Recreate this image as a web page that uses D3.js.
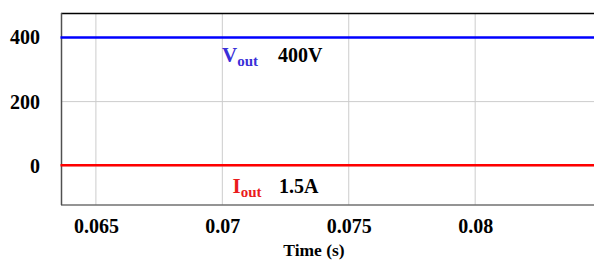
<!DOCTYPE html>
<html>
<head>
<meta charset="utf-8">
<script src="https://cdn.jsdelivr.net/npm/d3@7"></script>
<style>
  body { margin: 0; background: #fff; }
  text { font-family: "Liberation Serif", "Times New Roman", serif; font-weight: bold; }
</style>
</head>
<body>
<div id="chart-area"></div>
<script>
// Data
var time = [0.0636, 0.0847];
var vout = [400, 400];
var iout = [1.5, 1.5];
var xTicks = [0.065, 0.07, 0.075, 0.08];
var xTickLabels = ["0.065", "0.07", "0.075", "0.08"];
var yTicks = [0, 200, 400];
var yTickLabels = ["0", "200", "400"];

var margin = { left: 61, right: 0, top: 13, bottom: 55 },
    width = 594 - margin.left - margin.right,
    height = 260 - margin.top - margin.bottom;

var svg = d3.select("#chart-area")
    .append("svg")
    .attr("width", 594)
    .attr("height", 260);
var g = svg.append("g")
    .attr("transform", "translate(" + margin.left + "," + margin.top + ")");

// Scales
var x = d3.scaleLinear().domain([0.06362, 0.08470]).range([0, width]);
var y = d3.scaleLinear().domain([-122, 476]).range([height, 0]);

// Grid
g.selectAll(".vgrid").data(xTicks).enter().append("line")
    .attr("x1", d => x(d)).attr("x2", d => x(d))
    .attr("y1", 0).attr("y2", height)
    .attr("stroke", "#cccccc").attr("stroke-width", 1);
g.selectAll(".hgrid").data(yTicks).enter().append("line")
    .attr("x1", 0).attr("x2", width)
    .attr("y1", d => y(d)).attr("y2", d => y(d))
    .attr("stroke", "#cccccc").attr("stroke-width", 1);

// Frame
g.append("line").attr("x1", 0).attr("x2", width).attr("y1", 0.5).attr("y2", 0.5)
    .attr("stroke", "#000").attr("stroke-width", 1.5);
g.append("line").attr("x1", 0).attr("x2", width).attr("y1", height).attr("y2", height)
    .attr("stroke", "#707070").attr("stroke-width", 1.5);
g.append("line").attr("x1", 0.5).attr("x2", 0.5).attr("y1", 0).attr("y2", height)
    .attr("stroke", "#505050").attr("stroke-width", 1.5);

// Axes (labels only)
var xAxis = g.append("g")
    .attr("transform", "translate(0," + height + ")")
    .call(d3.axisBottom(x).tickValues(xTicks).tickSize(0).tickPadding(14)
        .tickFormat((d, i) => xTickLabels[i]));
var yAxis = g.append("g")
    .call(d3.axisLeft(y).tickValues(yTicks).tickSize(0).tickPadding(21)
        .tickFormat((d, i) => yTickLabels[i]));
[xAxis, yAxis].forEach(function(a) {
    a.select(".domain").remove();
    a.selectAll("text")
        .attr("font-family", "Liberation Serif, Times New Roman, serif")
        .attr("font-weight", "bold")
        .attr("font-size", "20px")
        .attr("fill", "#000");
});

g.append("text")
    .attr("x", 314 - margin.left)
    .attr("y", 256 - margin.top)
    .attr("text-anchor", "middle")
    .attr("font-size", "17.5px")
    .text("Time (s)");

// Lines
var line = d3.line()
    .x(function(d){ return x(d[0]); })
    .y(function(d){ return y(d[1]); });

g.append("path")
    .attr("fill", "none")
    .attr("stroke", "#0000ff")
    .attr("stroke-width", 2.5)
    .attr("d", line(d3.zip(time, vout)));
g.append("path")
    .attr("fill", "none")
    .attr("stroke", "#ff0000")
    .attr("stroke-width", 2.5)
    .attr("d", line(d3.zip(time, iout)));

// Annotations
var vLab = svg.append("text").attr("x", 222).attr("y", 61.5).attr("fill", "#3a2fd8");
vLab.append("tspan").attr("font-size", "21px").text("V");
vLab.append("tspan").attr("font-size", "15px").attr("dy", 4).text("out");
svg.append("text").attr("x", 278).attr("y", 61.5).attr("font-size", "20px").text("400V");

var iLab = svg.append("text").attr("x", 232.5).attr("y", 192.5).attr("fill", "#ea1c1c");
iLab.append("tspan").attr("font-size", "21px").text("I");
iLab.append("tspan").attr("font-size", "15px").attr("dy", 4).text("out");
svg.append("text").attr("x", 279).attr("y", 192.5).attr("font-size", "20px").text("1.5A");
</script>
</body>
</html>
